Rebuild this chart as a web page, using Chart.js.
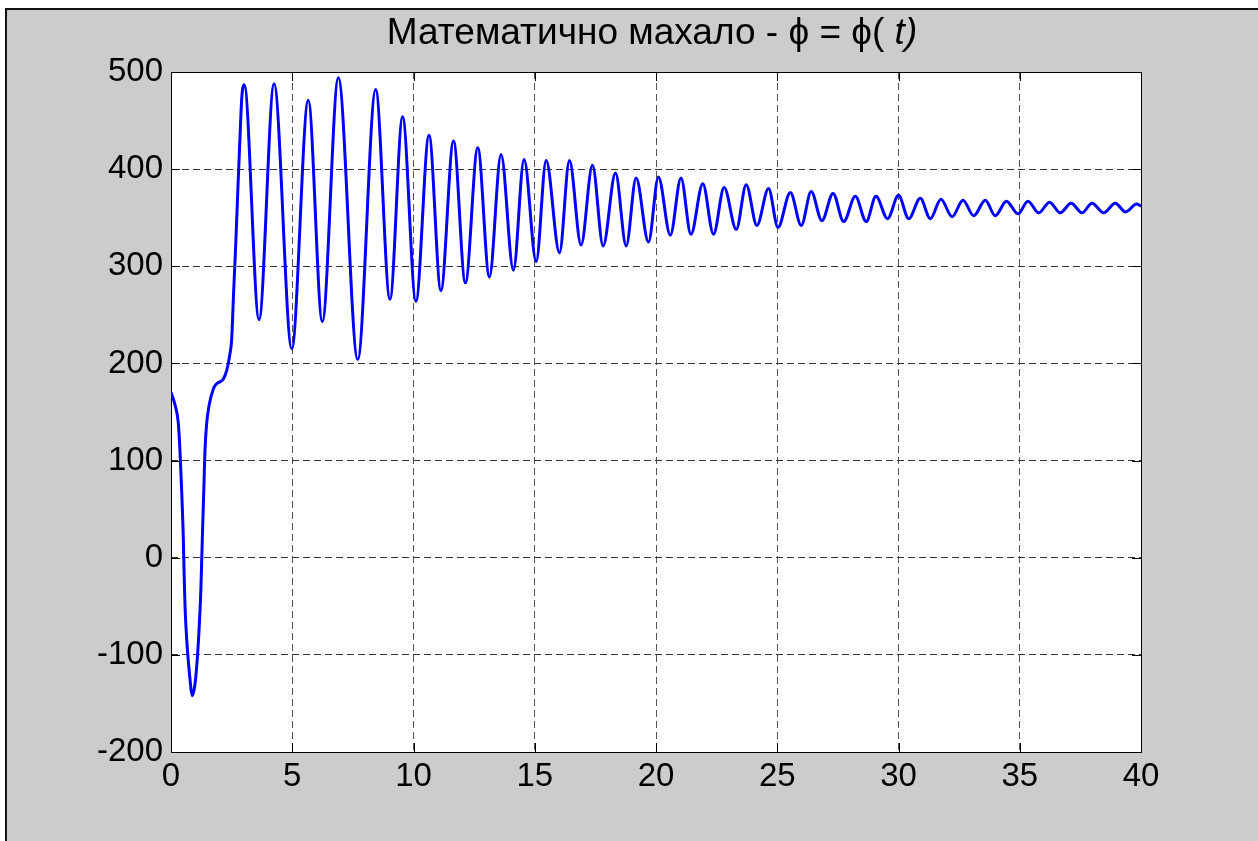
<!DOCTYPE html>
<html>
<head>
<meta charset="utf-8">
<title>Математично махало</title>
<script src="https://cdn.jsdelivr.net/npm/chart.js@4.4.1/dist/chart.umd.min.js"></script>
<style>
  html, body { margin: 0; padding: 0; background: #fff; }
</style>
</head>
<body>
<canvas id="myChart" width="1258" height="841"></canvas>
<script>
// t [s] and phi [deg] (start + extrema of each swing)
const timeValues = [
  0, 0.17, 0.30, 0.37, 0.44, 0.51, 0.54, 0.58, 0.65, 0.76, 0.88, 0.99, 1.09, 1.17, 1.23,
  1.27, 1.31, 1.36, 1.40, 1.47, 1.58, 1.75, 1.88, 2.16, 2.30, 2.43, 2.50, 2.58, 2.67,
  2.76, 2.85, 2.92, 3.02,
  3.63, 4.25, 4.98, 5.66, 6.24, 6.90, 7.70, 8.44, 9.03, 9.55, 10.10, 10.64, 11.13,
  11.65, 12.14, 12.65, 13.13, 13.61, 14.12, 14.56, 15.06, 15.47, 16.02, 16.43, 16.91,
  17.38, 17.82, 18.33, 18.77, 19.18, 19.69, 20.10, 20.59, 21.03, 21.44, 21.93, 22.37,
  22.81, 23.31, 23.72, 24.16, 24.64, 25.03, 25.54, 25.99, 26.40, 26.84, 27.30, 27.74,
  28.22, 28.67, 29.07, 29.55, 30.00, 30.42, 30.90, 31.31, 31.75, 32.21, 32.66, 33.10,
  33.58, 33.99, 34.45, 34.93, 35.34, 35.78, 36.23, 36.67, 37.12, 37.57, 37.98, 38.46,
  38.94, 39.36, 39.82, 40.00
];
const phiValues = [
  170, 157, 139, 110, 69, 18, -16, -51, -85, -119, -142, -130, -102, -68, -34,
  1, 35, 76, 110, 138, 158, 174, 179, 184, 193, 210, 224, 272, 323,
  381, 436, 474, 487,
  245, 488, 215, 471, 243, 494, 204, 482, 266, 454, 264, 435, 275,
  429, 283, 422, 289, 415, 296, 410, 305, 409, 314, 409, 322,
  404, 321, 396, 321, 391, 325, 392, 332, 391, 333, 385, 333,
  381, 338, 384, 342, 380, 340, 376, 342, 377, 347, 375, 346,
  372, 346, 372, 349, 373, 349, 370, 349, 369, 351, 368, 352,
  368, 352, 367, 354, 367, 355, 366, 355, 365, 355, 365, 355,
  365, 356, 364, 362
];
const xTickValues = [0, 5, 10, 15, 20, 25, 30, 35, 40];
const yTickValues = [-200, -100, 0, 100, 200, 300, 400, 500];

const FONT = '"Liberation Sans", Arial, sans-serif';

// grey figure, frame, white axes box and inward ticks (matlab look)
const figurePlugin = {
  id: 'figure',
  beforeDraw(chart) {
    const ctx = chart.ctx;
    const a = chart.chartArea;
    ctx.save();
    ctx.fillStyle = '#ffffff';
    ctx.fillRect(0, 0, chart.width, chart.height);
    ctx.fillStyle = '#cccccc';
    ctx.fillRect(5, 8, chart.width - 5, chart.height - 8);
    ctx.fillStyle = '#111111';
    ctx.fillRect(5, 8, 2, chart.height - 8);
    ctx.fillRect(5, 8, chart.width - 5, 2);
    ctx.fillStyle = '#ffffff';
    ctx.fillRect(a.left, a.top, a.right - a.left, a.bottom - a.top);
    ctx.restore();
  },
  beforeDatasetsDraw(chart) {
    const ctx = chart.ctx;
    const a = chart.chartArea;
    const xs = chart.scales.x, ys = chart.scales.y;
    ctx.save();
    ctx.strokeStyle = '#000000';
    ctx.lineWidth = 1;
    ctx.beginPath();
    xTickValues.forEach(v => {
      const px = Math.round(xs.getPixelForValue(v)) + 0.5;
      ctx.moveTo(px, a.bottom); ctx.lineTo(px, a.bottom - 9);
      ctx.moveTo(px, a.top); ctx.lineTo(px, a.top + 9);
    });
    yTickValues.forEach(v => {
      const py = Math.round(ys.getPixelForValue(v)) + 0.5;
      ctx.moveTo(a.left, py); ctx.lineTo(a.left + 9, py);
      ctx.moveTo(a.right, py); ctx.lineTo(a.right - 9, py);
    });
    ctx.stroke();
    ctx.strokeRect(Math.round(a.left) + 0.5, Math.round(a.top) + 0.5,
      Math.round(a.right - a.left), Math.round(a.bottom - a.top));
    ctx.restore();
  },
  afterDraw(chart) {
    // title with italic t
    const ctx = chart.ctx;
    const a = chart.chartArea;
    const parts = [
      { text: 'Математично махало - ', italic: false },
      { text: 'ϕ = ϕ( ', italic: false },
      { text: 't)', italic: true }
    ];
    ctx.save();
    ctx.fillStyle = '#000000';
    ctx.textBaseline = 'alphabetic';
    ctx.textAlign = 'left';
    let total = 0;
    parts.forEach(p => {
      ctx.font = (p.italic ? 'italic ' : '') + '37px ' + FONT;
      p.w = ctx.measureText(p.text).width;
      total += p.w;
    });
    let x = (a.left + a.right) / 2 - 4 - total / 2;
    parts.forEach(p => {
      ctx.font = (p.italic ? 'italic ' : '') + '37px ' + FONT;
      ctx.fillText(p.text, x, 44);
      x += p.w;
    });
    ctx.restore();
  }
};

const points = timeValues.map((t, i) => ({ x: t, y: phiValues[i] }));

const chart = new Chart(document.querySelector('#myChart'), {
  type: 'line',
  data: {
    datasets: [{
      data: points,
      borderColor: '#0000ff',
      borderWidth: 3,
      pointRadius: 0,
      fill: false,
      cubicInterpolationMode: 'monotone'
    }]
  },
  options: {
    responsive: false,
    animation: false,
    devicePixelRatio: 1,
    layout: { padding: { top: 72, right: 117, bottom: 0, left: 0 } },
    plugins: {
      legend: { display: false },
      title: { display: false },
      tooltip: { enabled: false }
    },
    scales: {
      x: {
        type: 'linear',
        min: 0,
        max: 40,
        afterFit: (scale) => { scale.height = 89; },
        afterBuildTicks: (scale) => { scale.ticks = xTickValues.map(v => ({ value: v })); },
        border: { display: false, dash: [7, 4] },
        grid: { color: '#555555', drawTicks: false, lineWidth: 1 },
        ticks: { color: '#000000', padding: 5, maxRotation: 0, font: { family: FONT, size: 33 } }
      },
      y: {
        type: 'linear',
        min: -200,
        max: 500,
        afterFit: (scale) => { scale.width = 171; },
        afterBuildTicks: (scale) => { scale.ticks = yTickValues.map(v => ({ value: v })); },
        border: { display: false, dash: [7, 4] },
        grid: { color: '#333333', drawTicks: false, lineWidth: 1 },
        ticks: { color: '#000000', padding: 8, font: { family: FONT, size: 33 } }
      }
    }
  },
  plugins: [figurePlugin]
});
</script>
</body>
</html>
